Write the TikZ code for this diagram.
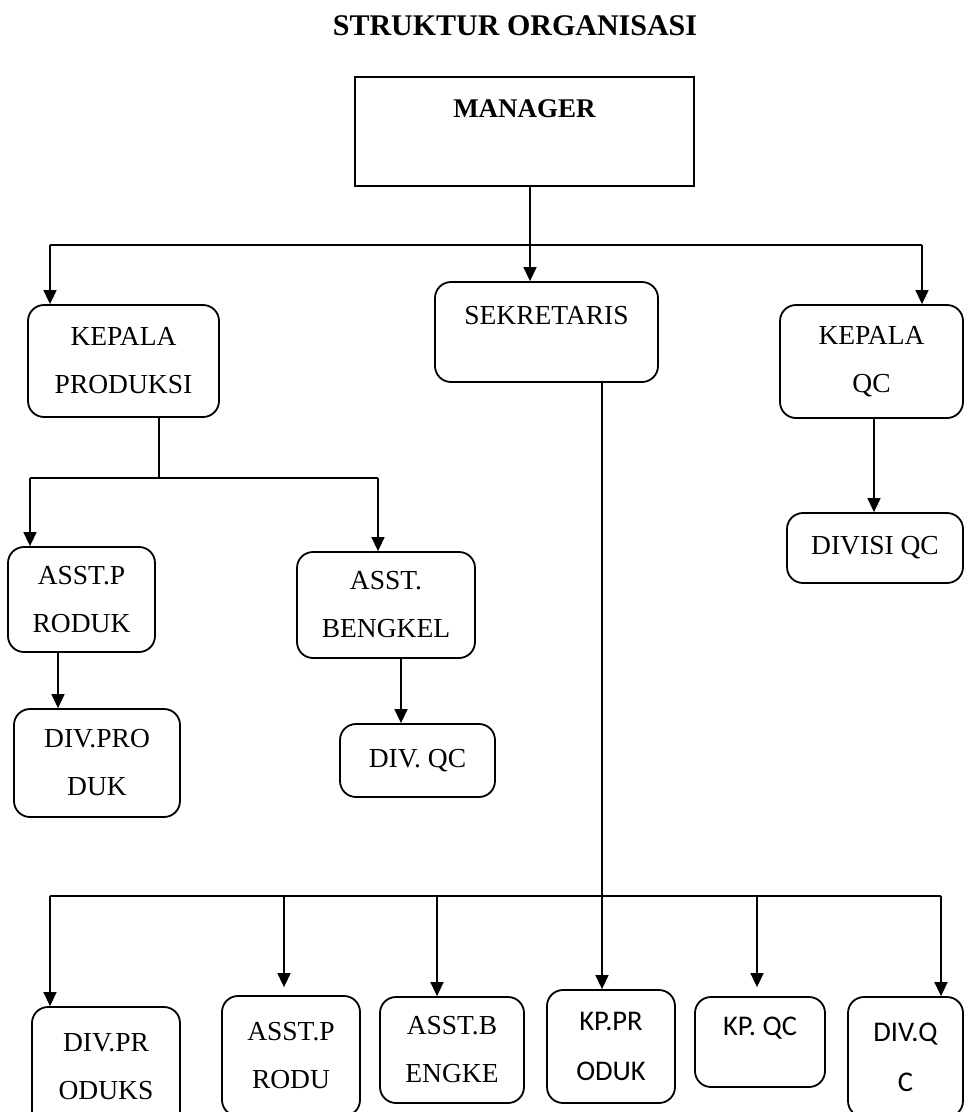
\documentclass[tikz,border=0pt]{standalone}
\usepackage{fontspec}
\setmainfont{Liberation Serif}
\newfontfamily\sansfont{Carlito}
\usetikzlibrary{arrows.meta}

\begin{document}
\begin{tikzpicture}
    [
        x=1pt, y=-1pt,
        box/.style={draw, rounded corners=16pt, line width=1.8pt, align=center, inner sep=0pt, font=\fontsize{27.5}{48}\selectfont},
        plainbox/.style={box, sharp corners},
        sansbox/.style={box, font=\sansfont\fontsize{28.5}{50}\selectfont},
        boxsize/.style 2 args={minimum width=#1pt, minimum height=#2pt},
        toptext/.style={text height=19pt, text depth=#1pt},
        link/.style={line width=1.5pt},
        arrow/.style={link, -{Triangle[length=14pt, width=13pt]}}
    ]
        \useasboundingbox (0,0) rectangle (965,1112);
        \clip (0,0) rectangle (965,1112);
        % =========================================================================
        % NODES
        % =========================================================================
        % --- Title ---
        \node [anchor=base, font=\fontsize{30}{36}\selectfont\bfseries] (title) at (515,35) {STRUKTUR ORGANISASI};
        % --- Level 1 ---
        \node [plainbox, boxsize={339}{109}, toptext=48, font=\fontsize{27}{48}\selectfont\bfseries] (manager) at (524.5,131.5) {MANAGER};
        % --- Level 2 ---
        \node [box, boxsize={191}{112}] (kprod) at (123.5,361) {KEPALA\\PRODUKSI};
        \node [box, boxsize={223}{100}, toptext=35] (sekre) at (546.5,332) {SEKRETARIS};
        \node [box, boxsize={183}{113}] (kqc) at (871.5,361.5) {KEPALA\\QC};
        % --- Level 3 ---
        \node [box, boxsize={147}{105}] (asprod) at (81.5,599.5) {ASST.P\\RODUK};
        \node [box, boxsize={178}{106}] (asbeng) at (386,605) {ASST.\\BENGKEL};
        \node [box, boxsize={176}{70}] (divisiqc) at (875,548) {DIVISI QC};
        % --- Level 4 ---
        \node [box, boxsize={166}{108}] (divprod) at (97,763) {DIV.PRO\\DUK};
        \node [box, boxsize={155}{73}] (divqc) at (417.5,760.5) {DIV. QC};
        % --- Level 5 ---
        \node [box, boxsize={148}{120}] (divprods) at (106,1067) {DIV.PR\\ODUKS};
        \node [box, boxsize={138}{120}] (asprodu) at (291,1056) {ASST.P\\RODU};
        \node [box, boxsize={144}{106}] (asbengke) at (452,1050) {ASST.B\\ENGKE};
        \node [sansbox, boxsize={128}{113}] (kpprod) at (611,1046.5) {KP.PR\\ODUK};
        \node [sansbox, boxsize={130}{90}, toptext=33] (kpqc) at (760,1042) {KP. QC};
        \node [sansbox, boxsize={115}{120}] (divq) at (905.5,1057) {DIV.Q\\C};

        % =========================================================================
        % PATHS
        % =========================================================================
        \coordinate (mdrop) at (530,0);
        \coordinate (pkdrop) at (159,0);
        \coordinate (pdrop) at (58,0);
        \coordinate (bdrop) at (401,0);
        \coordinate (qdrop) at (874,0);
        \coordinate (sdrop) at (602,0);
        % --- Manager bus ---
        \coordinate (busA) at (50,245);
        \coordinate (busB) at (922,245);
        \draw [link] (busA) -- (busB);
        \draw [arrow] (mdrop |- manager.south) -- (mdrop |- sekre.north);
        \draw [arrow] (busA) -- (busA |- kprod.north);
        \draw [arrow] (busB) -- (busB |- kqc.north);
        % --- Produksi bus ---
        \coordinate (prodA) at (30,478);
        \coordinate (prodB) at (378,478);
        \draw [link] (pkdrop |- kprod.south) -- (pkdrop |- prodA);
        \draw [link] (prodA) -- (prodB);
        \draw [arrow] (prodA) -- (prodA |- asprod.north);
        \draw [arrow] (prodB) -- (prodB |- asbeng.north);
        % --- Single drops ---
        \draw [arrow] (pdrop |- asprod.south) -- (pdrop |- divprod.north);
        \draw [arrow] (bdrop |- asbeng.south) -- (bdrop |- divqc.north);
        \draw [arrow] (qdrop |- kqc.south) -- (qdrop |- divisiqc.north);
        \draw [arrow] (sdrop |- sekre.south) -- (sdrop |- kpprod.north);
        % --- Bottom bus ---
        \coordinate (busC) at (50,896);
        \coordinate (busD) at (941,896);
        \draw [link] (busC) -- (busD);
        \draw [arrow] (busC) -- (busC |- divprods.north);
        \foreach \bx/\target/\gap in {284/asprodu/8pt, 437/asbengke/0pt, 757/kpqc/9pt, 941/divq/0pt}
            \draw [arrow, shorten >=\gap] (\bx,896) -- (\bx,896 |- \target.north);
\end{tikzpicture}
\end{document}
